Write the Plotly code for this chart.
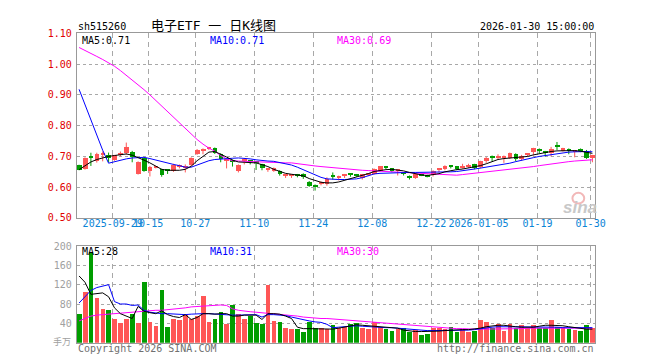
import plotly.graph_objects as go

# ---------------- data ----------------
dates = ["2025-09-19","2025-09-22","2025-09-23","2025-09-24","2025-09-25","2025-09-26","2025-09-29","2025-09-30",
         "2025-10-09","2025-10-10","2025-10-13","2025-10-14","2025-10-15","2025-10-16","2025-10-17","2025-10-20",
         "2025-10-21","2025-10-22","2025-10-23","2025-10-24","2025-10-27","2025-10-28","2025-10-29","2025-10-30",
         "2025-10-31","2025-11-03","2025-11-04","2025-11-05","2025-11-06","2025-11-07","2025-11-10","2025-11-11",
         "2025-11-12","2025-11-13","2025-11-14","2025-11-17","2025-11-18","2025-11-19","2025-11-20","2025-11-21",
         "2025-11-24","2025-11-25","2025-11-26","2025-11-27","2025-11-28","2025-12-01","2025-12-02","2025-12-03",
         "2025-12-04","2025-12-05","2025-12-08","2025-12-09","2025-12-10","2025-12-11","2025-12-12","2025-12-15",
         "2025-12-16","2025-12-17","2025-12-18","2025-12-19","2025-12-22","2025-12-23","2025-12-24","2025-12-25",
         "2025-12-26","2025-12-29","2025-12-30","2025-12-31","2026-01-05","2026-01-06","2026-01-07","2026-01-08",
         "2026-01-09","2026-01-12","2026-01-13","2026-01-14","2026-01-15","2026-01-16","2026-01-19","2026-01-20",
         "2026-01-21","2026-01-22","2026-01-23","2026-01-26","2026-01-27","2026-01-28","2026-01-29","2026-01-30"]

opens = [0.671,0.659,0.700,0.683,0.703,0.702,0.6875,0.705,0.710,0.714,
         0.643,0.693,0.650,0.663,0.658,0.654,0.653,0.665,0.663,0.671,
         0.707,0.717,0.725,0.726,0.707,0.686,0.685,0.650,0.686,0.683,
         0.680,0.674,0.656,0.653,0.653,0.6365,0.6365,0.639,0.643,0.617,
         0.602,0.610,0.609,0.640,0.631,0.636,0.641,0.639,0.630,0.639,
         0.643,0.653,0.665,0.660,0.652,0.644,0.634,0.630,0.639,0.637,
         0.6375,0.655,0.658,0.668,0.667,0.663,0.666,0.674,0.666,0.684,
         0.698,0.696,0.694,0.695,0.707,0.690,0.704,0.714,0.719,0.714,
         0.710,0.736,0.718,0.719,0.716,0.719,0.718,0.693]
highs = [0.673,0.697,0.712,0.712,0.716,0.7125,0.705,0.716,0.745,0.718,
         0.684,0.695,0.669,0.669,0.660,0.658,0.676,0.674,0.674,0.697,
         0.724,0.726,0.731,0.729,0.710,0.690,0.690,0.674,0.695,0.686,
         0.684,0.676,0.661,0.664,0.655,0.643,0.643,0.643,0.645,0.620,
         0.609,0.619,0.632,0.648,0.6375,0.643,0.645,0.643,0.643,0.643,
         0.661,0.669,0.669,0.662,0.656,0.646,0.638,0.646,0.643,0.641,
         0.655,0.661,0.671,0.672,0.669,0.676,0.676,0.676,0.686,0.698,
         0.703,0.707,0.703,0.7125,0.710,0.705,0.710,0.728,0.726,0.718,
         0.731,0.747,0.728,0.726,0.721,0.726,0.721,0.705]
lows = [0.655,0.657,0.669,0.680,0.684,0.681,0.686,0.700,0.705,0.681,
        0.641,0.650,0.635,0.661,0.634,0.643,0.650,0.661,0.648,0.669,
        0.705,0.707,0.721,0.708,0.681,0.661,0.667,0.648,0.674,0.674,
        0.656,0.655,0.650,0.650,0.6375,0.630,0.630,0.632,0.627,0.601,
        0.589,0.606,0.605,0.625,0.622,0.630,0.634,0.634,0.625,0.636,
        0.641,0.650,0.658,0.649,0.638,0.638,0.625,0.627,0.636,0.632,
        0.635,0.648,0.655,0.661,0.655,0.660,0.663,0.658,0.661,0.679,
        0.684,0.690,0.679,0.692,0.684,0.686,0.700,0.703,0.710,0.700,
        0.700,0.721,0.716,0.707,0.697,0.714,0.692,0.681]
closes = [0.656,0.695,0.693,0.708,0.710,0.693,0.703,0.710,0.731,0.697,
          0.682,0.651,0.666,0.665,0.6375,0.652,0.671,0.667,0.665,0.695,
          0.721,0.719,0.727,0.710,0.690,0.688,0.683,0.672,0.688,0.682,
          0.678,0.661,0.658,0.661,0.641,0.638,0.638,0.637,0.632,0.604,
          0.600,0.612,0.627,0.632,0.633,0.638,0.639,0.6375,0.641,0.641,
          0.658,0.667,0.663,0.650,0.654,0.642,0.632,0.643,0.6375,0.635,
          0.653,0.657,0.669,0.666,0.658,0.665,0.668,0.661,0.684,0.695,
          0.696,0.698,0.696,0.710,0.690,0.700,0.706,0.726,0.717,0.712,
          0.724,0.728,0.726,0.717,0.718,0.717,0.695,0.702]

ma5 = [0.657,0.670,0.682,0.690,0.696,0.700,0.703,0.705,0.708,0.704,
       0.697,0.688,0.679,0.668,0.658,0.655,0.654,0.655,0.658,0.668,
       0.686,0.700,0.714,0.716,0.708,0.698,0.688,0.682,0.681,0.679,
       0.679,0.673,0.667,0.658,0.652,0.645,0.642,0.639,0.637,0.628,
       0.622,0.616,0.614,0.614,0.617,0.622,0.627,0.632,0.637,0.644,
       0.651,0.655,0.657,0.658,0.656,0.653,0.648,0.643,0.640,0.638,
       0.640,0.644,0.650,0.654,0.657,0.659,0.662,0.665,0.670,0.676,
       0.684,0.690,0.693,0.695,0.696,0.698,0.700,0.705,0.709,0.712,
       0.716,0.718,0.719,0.719,0.719,0.717,0.713,0.710]
ma10 = [0.918,0.868,0.819,0.769,0.720,0.678,0.683,0.688,0.692,0.695,
        0.696,0.697,0.693,0.688,0.682,0.677,0.674,0.670,0.665,0.665,
        0.672,0.680,0.686,0.690,0.692,0.693,0.694,0.695,0.694,0.692,
        0.689,0.686,0.685,0.684,0.680,0.676,0.672,0.665,0.657,0.650,
        0.640,0.632,0.627,0.625,0.625,0.625,0.625,0.627,0.631,0.638,
        0.643,0.645,0.646,0.647,0.648,0.648,0.648,0.648,0.648,0.648,
        0.648,0.649,0.649,0.650,0.651,0.653,0.656,0.659,0.662,0.665,
        0.668,0.671,0.674,0.678,0.683,0.688,0.692,0.696,0.700,0.703,
        0.706,0.709,0.712,0.714,0.715,0.716,0.716,0.715]
ma30 = [1.054,1.045,1.035,1.025,1.015,1.004,0.993,0.979,0.964,0.949,
        0.933,0.917,0.900,0.882,0.864,0.846,0.828,0.810,0.791,0.772,
        0.755,0.740,0.727,0.717,0.703,0.692,0.686,0.685,0.684,0.684,
        0.684,0.683,0.682,0.681,0.680,0.679,0.679,0.676,0.674,0.671,
        0.669,0.667,0.665,0.663,0.661,0.659,0.658,0.657,0.655,0.654,
        0.653,0.652,0.651,0.650,0.649,0.648,0.647,0.645,0.643,0.642,
        0.641,0.640,0.639,0.638,0.639,0.641,0.643,0.645,0.647,0.649,
        0.651,0.654,0.657,0.659,0.661,0.663,0.665,0.667,0.670,0.673,
        0.676,0.678,0.680,0.683,0.685,0.687,0.688,0.689]

volumes = [60,105,188,93,70,68,50,40,50,60,
           40,125,42,34,110,32,48,46,58,48,
           55,96,42,48,64,38,77,60,50,56,
           40,38,120,44,42,30,28,28,22,42,
           30,30,28,36,30,33,38,40,30,28,
           42,32,28,24,28,30,22,27,16,18,
           30,30,28,32,22,28,22,25,46,42,
           30,38,24,38,30,36,30,36,30,30,
           46,32,32,28,26,24,36,30]
vma5 = [138,125,100,101,103,95,72,60,55,50,
        75,65,62,60,66,58,54,52,58,48,
        52,60,60,59,60,60,55,55,57,57,
        57,48,60,60,59,55,50,32,29,29,
        29,29,28,28,30,32,34,37,36,35,
        34,33,32,31,30,26,24,23,23,23,
        24,24,25,26,27,27,27,28,30,33,
        35,36,36,34,33,32,32,32,34,36,
        36,36,35,33,31,29,28,28]
vma10 = [82,95,108,114,117,120,85,80,80,77,
         78,67,63,61,60,60,59,58,58,59,
         60,60,60,59,58,57,57,57,57,57,
         58,53,58,58,57,56,53,50,47,45,
         43,42,38,31,32,33,35,35,34,33,
         33,32,31,31,30,29,28,26,25,25,
         25,25,25,25,25,25,26,27,29,30,
         32,33,33,32,32,32,32,32,32,32,
         32,32,31,31,31,30,30,31]
vma30 = [45,50,55,57,58,59,60,61,62,64,
         65,65,66,67,67,68,69,70,72,74,
         75,76,77,78,78,77,70,67,65,64,
         63,62,60,59,58,57,56,55,53,52,
         50,50,50,49,48,47,46,45,44,43,
         42,41,41,40,39,38,37,36,35,34,
         33,32,31,30,29,29,28,28,28,28,
         29,29,29,29,29,29,30,30,30,30,
         30,30,30,30,30,30,30,30]

tick_dates = ["2025-09-29","2025-10-15","2025-10-27","2025-11-10","2025-11-24",
              "2025-12-08","2025-12-22","2026-01-05","2026-01-19","2026-01-30"]
tick_labels = ["2025-09-29","10-15","10-27","11-10","11-24",
               "12-08","12-22","2026-01-05","01-19","01-30"]
price_ticks = [0.5, 0.6, 0.7, 0.8, 0.9, 1.0, 1.1]
vol_ticks = [40, 80, 120, 160, 200]

# ---------------- styling ----------------
W, H = 660, 360
RED = "#ff5656"
GREEN = "#009d00"
MONO = "DejaVu Sans Mono"
GRID = "#a8a8a8"
BORDER = "#999999"

def px(x):
    return x / W

def py(y):
    return 1 - y / H

idx = list(range(len(dates)))
up = [c >= o for o, c in zip(opens, closes)]

fig = go.Figure()

# wicks
for flag, col in ((True, RED), (False, GREEN)):
    wx, wy = [], []
    for i in idx:
        if up[i] == flag:
            wx += [i, i, None]
            wy += [lows[i], highs[i], None]
    fig.add_trace(go.Scatter(x=wx, y=wy, mode="lines", line=dict(color=col, width=1),
                             xaxis="x", yaxis="y", hoverinfo="skip", showlegend=False))

# bodies
base = [min(o, c) for o, c in zip(opens, closes)]
height = [max(abs(c - o), 0.0032) for o, c in zip(opens, closes)]
fig.add_trace(go.Bar(x=idx, y=height, base=base, width=0.8,
                     marker=dict(color=[RED if u else GREEN for u in up], line=dict(width=0)),
                     xaxis="x", yaxis="y", hoverinfo="skip", showlegend=False))

for ser, col in ((ma30, "#ff00ff"), (ma10, "#0000ff"), (ma5, "#000000")):
    fig.add_trace(go.Scatter(x=idx, y=ser, mode="lines", line=dict(color=col, width=1),
                             xaxis="x", yaxis="y", hoverinfo="skip", showlegend=False))

# volume
fig.add_trace(go.Bar(x=idx, y=volumes, width=0.8,
                     marker=dict(color=[RED if u else GREEN for u in up], line=dict(width=0)),
                     xaxis="x2", yaxis="y2", hoverinfo="skip", showlegend=False))
for ser, col in ((vma30, "#ff00ff"), (vma10, "#0000ff"), (vma5, "#000000")):
    fig.add_trace(go.Scatter(x=idx, y=ser, mode="lines", line=dict(color=col, width=1),
                             xaxis="x2", yaxis="y2", hoverinfo="skip", showlegend=False))

tickpos = [dates.index(d) - 0.3 for d in tick_dates]
xrange_ = [-0.383, 87.45]
xdom = [px(70), px(597)]

common_x = dict(range=xrange_, domain=xdom, tickmode="array", tickvals=tickpos,
                showgrid=True, gridcolor=GRID, griddash="5px,4px", gridwidth=1,
                showline=True, linecolor=BORDER, linewidth=1, mirror=True,
                zeroline=False, ticks="", fixedrange=True, tickangle=0)

fig.update_layout(
    width=W, height=H,
    margin=dict(l=0, r=0, t=0, b=0),
    paper_bgcolor="white", plot_bgcolor="white",
    hovermode=False, bargap=0, barmode="overlay",
    xaxis=dict(**common_x, anchor="y", ticktext=tick_labels, ticklabelstandoff=-4,
               tickfont=dict(family=MONO, size=10, color="#0a84d6")),
    xaxis2=dict(**common_x, anchor="y2", showticklabels=False),
    yaxis=dict(domain=[py(211), py(20)], range=[0.5, 1.1], tickmode="array",
               tickvals=price_ticks, ticktext=["%.2f" % v for v in price_ticks],
               tickfont=dict(family=MONO, size=10, color="#e00000"),
               ticklabelstandoff=2,
               showgrid=True, gridcolor=GRID, griddash="dot", gridwidth=1,
               showline=True, linecolor=BORDER, linewidth=1, mirror=True,
               zeroline=False, ticks="", fixedrange=True),
    yaxis2=dict(domain=[py(340), py(240)], range=[0, 200], tickmode="array",
                tickvals=vol_ticks, ticktext=[str(v) for v in vol_ticks],
                tickfont=dict(family=MONO, size=10, color="#a0a0a0"),
                ticklabelstandoff=2,
                showgrid=True, gridcolor=GRID, griddash="dot", gridwidth=1,
                showline=True, linecolor=BORDER, linewidth=1, mirror=True,
                zeroline=False, ticks="", fixedrange=True),
)

def note(text, x, y, color="#000000", size=10, xanchor="left", family=MONO, **kw):
    fig.add_annotation(text=text, x=px(x), y=py(y), xref="paper", yref="paper",
                       xanchor=xanchor, yanchor="middle", showarrow=False,
                       font=dict(family=family, size=size, color=color), **kw)

note("sh515260", 69, 13)
note("电子ETF 一 日K线图", 209, 12, size=13, xanchor="center",
     family="DejaVu Sans Mono, Noto Sans CJK SC")
note("2026-01-30 15:00:00", 598, 13, xanchor="right")

note("MA5:%.2f" % ma5[-1], 73, 27)
note("MA10:%.2f" % ma10[-1], 203, 27, color="#0000ff")
note("MA30:%.2f" % ma30[-1], 333, 27, color="#ff00ff")

note("MA5:%d" % vma5[-1], 73, 246)
note("MA10:%d" % vma10[-1], 203, 246, color="#0000ff")
note("MA30:%d" % vma30[-1], 333, 246, color="#ff00ff")

note("手万", 66, 339, color="#a0a0a0", size=9, xanchor="right",
     family="Noto Sans CJK SC")
note("Copyright 2026 SINA.COM", 69, 346, color="#707070")
note("http://finance.sina.com.cn", 598, 346, color="#707070", xanchor="right")

# sina watermark
note("<b><i>sina</i></b>", 582, 200, color="#c8c8c8", size=17, xanchor="center",
     family="Liberation Sans")
fig.add_shape(type="circle", xref="paper", yref="paper",
              x0=px(574), x1=px(586), y0=py(196), y1=py(185),
              line=dict(color="#f2b8b8", width=2))

fig.write_html("out.html")
